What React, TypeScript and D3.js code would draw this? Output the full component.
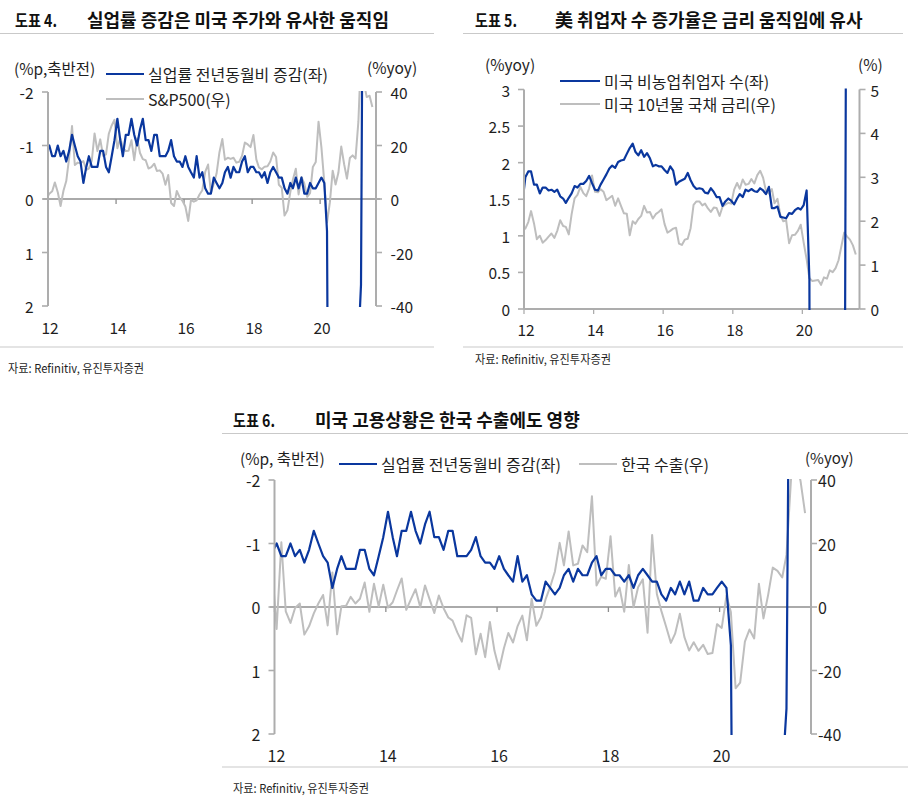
import React from 'react';
import * as d3 from 'd3';

// monthly series, first value = Dec 2011
const unempChg = [
  -0.85, -1.0, -0.8, -0.8, -1.0, -0.8, -0.9, -0.7, -0.9, -1.2, -1.0, -0.8,
  -0.7, -0.3, -0.6, -0.8, -0.6, -0.6, -0.6, -0.9, -0.9, -0.6, -0.5, -0.8,
  -1.1, -1.5, -1.1, -0.8, -1.2, -1.2, -1.5, -1.2, -1.0, -1.3, -1.5, -1.1,
  -1.1, -0.9, -1.2, -1.2, -0.8, -0.8, -0.8, -0.9, -1.1, -0.8, -0.7, -0.7,
  -0.6, -0.8, -0.6, -0.5, -0.4, -0.8, -0.4, -0.5, -0.2, -0.1, -0.1, -0.4,
  -0.3, -0.2, -0.3, -0.5, -0.6, -0.4, -0.6, -0.5, -0.5, -0.7, -0.8, -0.5,
  -0.6, -0.6, -0.5, -0.5, -0.4, -0.5, -0.3, -0.5, -0.6, -0.5, -0.4, -0.4,
  -0.2, -0.1, -0.3, -0.2, -0.4, -0.2, -0.4, -0.1, -0.1, -0.3, -0.2, -0.2,
  -0.3, -0.4, -0.3, 0.6, 11.0, 9.6, 7.4, 6.5, 4.7, 4.4, 3.3, 3.1,
  3.1, 2.9, 2.7, 1.6, -8.6, -7.4, -5.2, -4.8,
];

const sp500Yoy = [
  0.0,
  2.0, 2.9, 6.2, 2.5, -2.6, 3.1, 6.7, 15.4, 27.3, 12.7, 13.6, 13.4,
  14.2, 10.9, 11.4, 14.3, 24.5, 17.9, 22.3, 16.1, 16.7, 24.4, 27.5, 29.6,
  19.0, 22.7, 19.3, 17.9, 18.0, 22.0, 14.5, 22.7, 17.2, 14.9, 14.5, 11.4,
  11.9, 13.2, 10.5, 10.7, 9.5, 5.3, 9.0, -1.5, -2.6, 3.0, 0.6, -0.7,
  -2.8, -8.2, -0.4, -1.0, -0.5, 1.7, 3.3, 10.1, 12.9, 2.3, 5.7, 9.5,
  17.5, 22.4, 14.7, 15.4, 15.0, 15.4, 13.6, 13.9, 16.2, 21.1, 20.4, 19.4,
  23.9, 14.8, 11.8, 11.1, 12.1, 12.2, 14.0, 17.4, 15.7, 5.3, 4.2, -6.2,
  -4.2, 2.6, 7.3, 11.3, 1.7, 8.2, 5.8, 0.8, 2.2, 12.0, 13.8, 28.9,
  19.3, 6.1, -8.8, -1.2, 10.6, 5.4, 9.8, 19.6, 13.0, 7.6, 15.3, 16.3,
  15.1, 29.0, 53.7, 43.6, 38.1, 38.6, 34.4,
];

const payrollYoy = [
  1.45,
  1.8, 1.88, 1.88, 1.7, 1.7, 1.58, 1.66, 1.66, 1.62, 1.63, 1.6, 1.63,
  1.54, 1.51, 1.45, 1.52, 1.58, 1.68, 1.66, 1.71, 1.71, 1.75, 1.82, 1.72,
  1.63, 1.62, 1.7, 1.77, 1.84, 1.92, 1.96, 1.93, 2.01, 2.03, 2.04, 2.12,
  2.2, 2.26, 2.15, 2.1, 2.17, 2.08, 2.13, 2.06, 1.95, 1.97, 1.95, 1.95,
  1.9, 1.86, 1.95, 1.89, 1.7, 1.74, 1.76, 1.78, 1.86, 1.76, 1.68, 1.64,
  1.65, 1.64, 1.59, 1.58, 1.65, 1.6, 1.53, 1.53, 1.41, 1.47, 1.51, 1.48,
  1.43, 1.51, 1.57, 1.53, 1.63, 1.61, 1.64, 1.61, 1.6, 1.65, 1.62, 1.57,
  1.67, 1.38, 1.38, 1.4, 1.26, 1.25, 1.24, 1.31, 1.3, 1.35, 1.38, 1.36,
  1.42, 1.62, 0.4, -13.4, -11.6, -8.9, -7.6, -6.9, -6.3, -5.9, -5.9, -6.1,
  -6.0, -5.8, -4.5, 9.2, 8.8, 6.6, 5.6,
];

const ust10y = [
  1.89,
  1.83, 1.98, 2.23, 1.95, 1.59, 1.67, 1.51, 1.57, 1.65, 1.72, 1.62, 1.78,
  2.02, 1.89, 1.87, 1.7, 2.16, 2.52, 2.6, 2.78, 2.64, 2.57, 2.75, 3.04,
  2.67, 2.66, 2.73, 2.67, 2.48, 2.53, 2.58, 2.35, 2.52, 2.35, 2.18, 2.17,
  1.68, 2.0, 1.94, 2.05, 2.12, 2.35, 2.2, 2.21, 2.06, 2.16, 2.21, 2.27,
  1.94, 1.74, 1.78, 1.83, 1.85, 1.49, 1.46, 1.58, 1.6, 1.84, 2.37, 2.45,
  2.45, 2.36, 2.4, 2.29, 2.21, 2.31, 2.3, 2.12, 2.33, 2.38, 2.42, 2.4,
  2.72, 2.87, 2.74, 2.95, 2.83, 2.85, 2.96, 2.86, 3.05, 3.15, 2.99, 2.69,
  2.63, 2.73, 2.41, 2.51, 2.14, 2.0, 2.02, 1.5, 1.68, 1.69, 1.78, 1.92,
  1.51, 1.13, 0.7, 0.64, 0.65, 0.66, 0.55, 0.72, 0.69, 0.88, 0.84, 0.93,
  1.11, 1.44, 1.74, 1.65, 1.58, 1.45, 1.24,
];

const krExportYoy = [
  12.9,
  -6.9, 20.4, -1.4, -5.0, -0.3, 1.1, -8.7, -6.1, -2.0, 1.1, 3.8, -5.8,
  10.9, -8.6, 0.2, 0.4, 3.2, 1.1, 2.6, 7.7, -1.5, 7.3, 0.2, 7.0,
  -0.2, 1.5, 5.2, 9.0, -0.9, 2.5, 5.6, -0.1, 6.8, 2.5, -1.9, 3.6,
  -0.4, -3.3, -4.3, -8.0, -10.9, -2.6, -3.4, -14.9, -8.4, -15.8, -4.7, -13.8,
  -19.6, -13.0, -8.2, -11.2, -6.0, -2.7, -10.5, 2.6, -5.9, -3.2, 2.5, 6.4,
  11.2, 20.2, 13.1, 23.8, 13.1, 13.6, 19.4, 17.3, 34.9, 6.8, 9.5, 8.9,
  22.3, 3.3, 6.1, -1.5, 13.2, -0.1, 6.2, 8.7, -8.1, 22.7, 4.1, -1.3,
  -6.2, -11.3, -8.4, -2.1, -9.5, -13.7, -11.1, -13.8, -11.9, -14.8, -14.5, -5.4,
  -6.6, 3.6, -1.6, -25.6, -23.8, -10.9, -7.1, -9.9, 7.3, -3.6, 3.9, 12.4,
  11.4, 9.3, 16.4, 41.2, 45.6, 39.8, 29.6,
];

const yearTicks = [2012, 2014, 2016, 2018, 2020];
const unempTicks = [-2, -1, 0, 1, 2];
const yoyTicks = [40, 20, 0, -20, -40];
const payrollTicks = [0, 0.5, 1, 1.5, 2, 2.5, 3];
const rateTicks = [0, 1, 2, 3, 4, 5];

const FONT = '"Noto Sans CJK KR", "Noto Sans", sans-serif';
const BLUE = '#0a379e';
const GRAY = '#bebebe';
const AXIS = '#adadad';
const ZERO = '#8e8e8e';
const TEXT = '#1e1e1e';
const RULE = '#c9c9c9';

const X_DOMAIN = [new Date(2012, 0, 1), new Date(2021, 7, 23)];
const monthDate = (i: number) => new Date(2011, 11 + i, 15);

type Series = { values: number[]; side: 'left' | 'right'; color: string; width: number };

interface PanelProps {
  id: string;
  x0: number; x1: number; yTop: number; yBottom: number;
  leftDomain: [number, number];
  rightDomain: [number, number];
  leftTicks: number[];
  rightTicks: number[];
  leftGap: number;
  rightGap: number;
  zeroLine?: [number, number];
  labelY: number;
  fontSize: number;
  series: Series[];
}

function Panel(p: PanelProps) {
  const x = d3.scaleTime().domain(X_DOMAIN).range([p.x0, p.x1]);
  const yL = d3.scaleLinear().domain(p.leftDomain).range([p.yTop, p.yBottom]);
  const yR = d3.scaleLinear().domain(p.rightDomain).range([p.yTop, p.yBottom]);
  const baseY = p.zeroLine ? yL(0) : p.yBottom;
  const clipId = `clip-${p.id}`;

  return (
    <g fontFamily={FONT} fill={TEXT}>
      <defs>
        <clipPath id={clipId}>
          <rect x={p.x0} y={p.yTop - 1} width={p.x1 - p.x0} height={p.yBottom - p.yTop + 2} />
        </clipPath>
      </defs>

      {p.zeroLine ? (
        <line x1={p.zeroLine[0]} x2={p.zeroLine[1]} y1={baseY} y2={baseY} stroke={ZERO} strokeWidth={1.3} />
      ) : (
        <line x1={p.x0} x2={p.x1} y1={p.yBottom} y2={p.yBottom} stroke={AXIS} strokeWidth={1.8} />
      )}

      {yearTicks.map(yr => {
        const xx = x(new Date(yr, 0, 1));
        return (
          <g key={yr}>
            <line x1={xx} x2={xx} y1={baseY} y2={baseY + 5} stroke={p.zeroLine ? ZERO : AXIS} strokeWidth={1.3} />
            <text x={xx + 2} y={p.labelY} textAnchor="middle" dominantBaseline="central" fontSize={p.fontSize}>
              {String(yr % 100)}
            </text>
          </g>
        );
      })}

      <g clipPath={`url(#${clipId})`}>
        {p.series.map((s, i) => {
          const y = s.side === 'left' ? yL : yR;
          const line = d3.line<number>()
            .x((_, j) => x(monthDate(j)))
            .y(v => y(v));
          return (
            <path key={i} d={line(s.values) ?? ''} fill="none" stroke={s.color}
              strokeWidth={s.width} strokeLinejoin="round" />
          );
        })}
      </g>

      <line x1={p.x0} x2={p.x0} y1={p.yTop} y2={p.yBottom} stroke={AXIS} strokeWidth={2} />
      {p.leftTicks.map(v => (
        <g key={`l${v}`}>
          <line x1={p.x0 - 6} x2={p.x0} y1={yL(v)} y2={yL(v)} stroke={AXIS} strokeWidth={1.6} />
          <text x={p.x0 - p.leftGap} y={yL(v)} textAnchor="end" dominantBaseline="central" fontSize={p.fontSize}>
            {String(v)}
          </text>
        </g>
      ))}

      <line x1={p.x1} x2={p.x1} y1={p.yTop} y2={p.yBottom} stroke={AXIS} strokeWidth={2} />
      {p.rightTicks.map(v => (
        <g key={`r${v}`}>
          <line x1={p.x1} x2={p.x1 + 6} y1={yR(v)} y2={yR(v)} stroke={AXIS} strokeWidth={1.6} />
          <text x={p.x1 + p.rightGap} y={yR(v)} textAnchor="start" dominantBaseline="central" fontSize={p.fontSize}>
            {String(v)}
          </text>
        </g>
      ))}
    </g>
  );
}

function Title({ x, tx, y, num, text, rule }: { x: number; tx: number; y: number; num: string; text: string; rule: [number, number] }) {
  return (
    <g fontFamily={FONT} fontWeight={700} fill="#111">
      <text x={x} y={y} fontSize={17} textLength={42} lengthAdjust="spacingAndGlyphs">{num}</text>
      <text x={tx} y={y} fontSize={18}>{text}</text>
      <line x1={rule[0]} x2={rule[1]} y1={y + 6.5} y2={y + 6.5} stroke={RULE} strokeWidth={1.2} />
    </g>
  );
}

function Legend({ x, y, color, label, len = 38 }: { x: number; y: number; color: string; label: string; len?: number }) {
  return (
    <g fontFamily={FONT} fill={TEXT}>
      <line x1={x} x2={x + len} y1={y} y2={y} stroke={color} strokeWidth={2} />
      <text x={x + len + 4} y={y} dominantBaseline="central" fontSize={16}>{label}</text>
    </g>
  );
}

function Source({ x, y, rule }: { x: number; y: number; rule: [number, number, number] }) {
  return (
    <g fontFamily={FONT} fill={TEXT}>
      <line x1={rule[0]} x2={rule[1]} y1={rule[2]} y2={rule[2]} stroke={RULE} strokeWidth={1.2} />
      <text x={x} y={y} dominantBaseline="central" fontSize={12} textLength={136} lengthAdjust="spacingAndGlyphs">
        자료: Refinitiv, 유진투자증권
      </text>
    </g>
  );
}

export default function App() {
  return (
    <svg width={912} height={801} style={{ position: 'absolute', left: 0, top: 0, background: '#fff' }}>
      <rect width={912} height={801} fill="#fff" />

      {/* 도표 4 */}
      <Title x={15} tx={87} y={27} num="도표 4." text="실업률 증감은 미국 주가와 유사한 움직임" rule={[0, 434]} />
      <text x={14} y={68} fontFamily={FONT} fontSize={15.5} fill={TEXT} dominantBaseline="central">(%p,축반전)</text>
      <text x={367} y={67} fontFamily={FONT} fontSize={15.5} fill={TEXT} dominantBaseline="central">(%yoy)</text>
      <Legend x={106} y={74} color={BLUE} label="실업률 전년동월비 증감(좌)" />
      <Legend x={106} y={99} color={GRAY} label="S&P500(우)" />
      <Panel id="p1" x0={48} x1={376} yTop={92} yBottom={306}
        leftDomain={[-2, 2]} rightDomain={[40, -40]}
        leftTicks={unempTicks} rightTicks={yoyTicks}
        leftGap={14.5} rightGap={14.5} zeroLine={[43, 380]}
        labelY={327} fontSize={15.5}
        series={[
          { values: sp500Yoy, side: 'right', color: GRAY, width: 2 },
          { values: unempChg, side: 'left', color: BLUE, width: 2.2 },
        ]} />
      <Source x={8} y={367} rule={[0, 434, 347]} />

      {/* 도표 5 */}
      <Title x={475} tx={555} y={27} num="도표 5." text="美 취업자 수 증가율은 금리 움직임에 유사" rule={[463, 903]} />
      <text x={485} y={64} fontFamily={FONT} fontSize={15.5} fill={TEXT} dominantBaseline="central">(%yoy)</text>
      <text x={858} y={64} fontFamily={FONT} fontSize={15.5} fill={TEXT} dominantBaseline="central">(%)</text>
      <Legend x={560} y={81} color={BLUE} label="미국 비농업취업자 수(좌)" len={40} />
      <Legend x={560} y={104} color={GRAY} label="미국 10년물 국채 금리(우)" len={40} />
      <Panel id="p2" x0={524} x1={859.5} yTop={89.5} yBottom={309}
        leftDomain={[3, 0]} rightDomain={[5, 0]}
        leftTicks={payrollTicks} rightTicks={rateTicks}
        leftGap={14} rightGap={11}
        labelY={329} fontSize={15.5}
        series={[
          { values: ust10y, side: 'right', color: GRAY, width: 2 },
          { values: payrollYoy, side: 'left', color: BLUE, width: 2.2 },
        ]} />
      <Source x={475} y={358} rule={[463, 903, 347]} />

      {/* 도표 6 */}
      <Title x={233} tx={315} y={427} num="도표 6." text="미국 고용상황은 한국 수출에도 영향" rule={[222, 908]} />
      <text x={240} y={458} fontFamily={FONT} fontSize={15.5} fill={TEXT} dominantBaseline="central">(%p, 축반전)</text>
      <text x={805} y={457} fontFamily={FONT} fontSize={15} fill={TEXT} dominantBaseline="central">(%yoy)</text>
      <Legend x={339} y={464} color={BLUE} label="실업률 전년동월비 증감(좌)" />
      <Legend x={579} y={464} color={GRAY} label="한국 수출(우)" />
      <Panel id="p3" x0={274.5} x1={811} yTop={480} yBottom={734}
        leftDomain={[-2, 2]} rightDomain={[40, -40]}
        leftTicks={unempTicks} rightTicks={yoyTicks}
        leftGap={14} rightGap={7} zeroLine={[270, 811]}
        labelY={755} fontSize={16}
        series={[
          { values: krExportYoy, side: 'right', color: GRAY, width: 2 },
          { values: unempChg, side: 'left', color: BLUE, width: 2.2 },
        ]} />
      <Source x={233} y={787} rule={[222, 908, 767]} />
    </svg>
  );
}
